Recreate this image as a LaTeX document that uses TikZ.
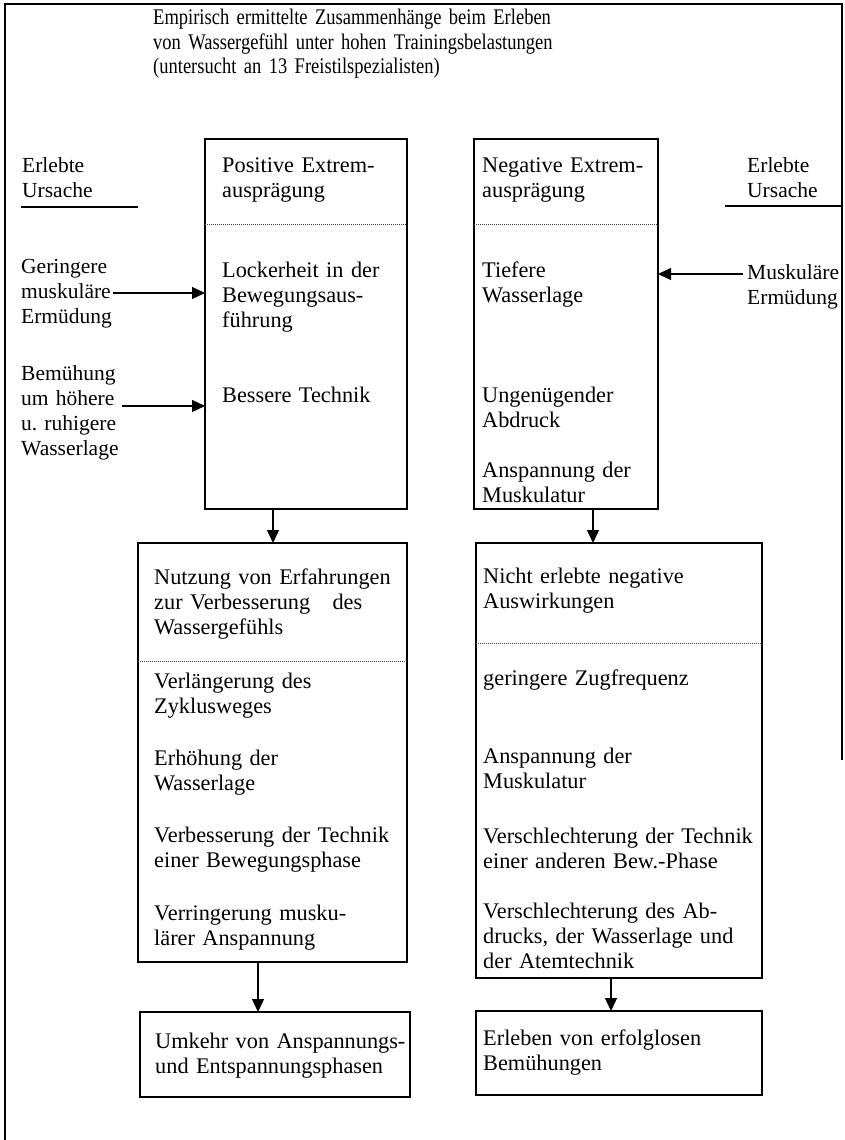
\documentclass[tikz,border=0pt]{standalone}
\usepackage{fontspec}
\setmainfont{Liberation Serif}
\newfontfamily\narrowserif[FakeStretch=0.83]{Liberation Serif}
\usetikzlibrary{arrows.meta}
\frenchspacing

\begin{document}
\begin{tikzpicture}[x=1pt,y=-1pt,
  frame/.style={line width=1.2pt},
  box/.style={draw, line width=1.3pt, inner sep=0pt, outer sep=0pt, anchor=north west},
  sep/.style={line width=0.8pt, dash pattern=on 1pt off 1pt, black!75},
  txt/.style={anchor=base west, align=left, inner sep=0pt, text width=600pt,
              font=\fontsize{22.3}{25}\selectfont},
  cause/.style={txt, font=\fontsize{21.5}{25}\selectfont},
  head/.style={txt, font=\narrowserif\fontsize{22.3}{24.5}\selectfont},
  arr/.style={line width=1.3pt, -{Triangle[length=13pt,width=12pt]}},
]
\useasboundingbox (0,0) rectangle (844,1140);

% outer frame (open at the bottom)
\draw[frame] (5,1140) -- (5,4) -- (842,4) -- (842,760);

% heading
\node[head] (title) at (153,25) {Empirisch ermittelte Zusammenhänge beim Erleben\\
von Wassergefühl unter hohen Trainingsbelastungen\\
(untersucht an 13 Freistilspezialisten)};

% column headings for the perceived causes
\node[cause] (causeL) at (22,172) {Erlebte\\Ursache};
\draw[frame] (21,207) -- (138,207);
\node[cause] (causeR) at (747,172) {Erlebte\\Ursache};
\draw[frame] (725,206) -- (842,206);

% causes
\node[cause] (c1) at (21,273) {Geringere\\muskuläre\\Ermüdung};
\node[cause] (c2) at (21,380) {Bemühung\\um höhere\\u. ruhigere\\Wasserlage};
\node[cause] (c3) at (747,279) {Muskuläre\\Ermüdung};

% boxes
\node[box, minimum width=202pt, minimum height=370pt] (pb) at (205,139) {};
\node[box, minimum width=184pt, minimum height=370pt] (nb) at (474,139) {};
\node[box, minimum width=269pt, minimum height=419pt] (lb) at (138,543) {};
\node[box, minimum width=286pt, minimum height=435pt] (rb) at (476,543) {};
\node[box, minimum width=270pt, minimum height=85pt]  (fl) at (140,1012) {};
\node[box, minimum width=286pt, minimum height=84pt]  (fr) at (476,1011) {};

% dotted separators
\draw[sep] (pb.west |- 0,224) -- (pb.east |- 0,224);
\draw[sep] (nb.west |- 0,224) -- (nb.east |- 0,224);
\draw[sep] (lb.west |- 0,661) -- (lb.east |- 0,661);
\draw[sep] (rb.west |- 0,643) -- (rb.east |- 0,643);

% positive extreme
\node[txt] (p1) at (222,172) {Positive Extrem-\\ausprägung};
\node[txt] (p2) at (222,277) {Lockerheit in der\\Bewegungsaus-\\führung};
\node[txt] (p3) at (222,402) {Bessere Technik};

% negative extreme
\node[txt] (n1) at (482,172) {Negative Extrem-\\ausprägung};
\node[txt] (n2) at (482,277) {Tiefere\\Wasserlage};
\node[txt] (n3) at (482,402) {Ungenügender\\Abdruck};
\node[txt] (n4) at (482,477) {Anspannung der\\Muskulatur};

% use of experience
\node[txt] (u1) at (154,584) {Nutzung von Erfahrungen\\zur Verbesserung\ \ \ des\\Wassergefühls};
\node[txt] (u2) at (154,688) {Verlängerung des\\Zyklusweges};
\node[txt] (u3) at (154,765) {Erhöhung der\\Wasserlage};
\node[txt] (u4) at (154,842) {Verbesserung der Technik\\einer Bewegungsphase};
\node[txt] (u5) at (154,920) {Verringerung musku-\\lärer Anspannung};

% unnoticed effects
\node[txt] (e1) at (483,583) {Nicht erlebte negative\\Auswirkungen};
\node[txt] (e2) at (483,685) {geringere Zugfrequenz};
\node[txt] (e3) at (483,763) {Anspannung der\\Muskulatur};
\node[txt] (e4) at (483,843) {Verschlechterung der Technik\\einer anderen Bew.-Phase};
\node[txt] (e5) at (483,918) {Verschlechterung des Ab-\\drucks, der Wasserlage und\\der Atemtechnik};

% outcomes
\node[txt] (o1) at (155,1048) {Umkehr von Anspannungs-\\und Entspannungsphasen};
\node[txt] (o2) at (483,1045) {Erleben von erfolglosen\\Bemühungen};

% connectors
\coordinate (a1) at (273,0);
\coordinate (a2) at (593,0);
\coordinate (a3) at (258,0);
\coordinate (a4) at (611,0);
\draw[arr] (pb.south -| a1) -- (lb.north -| a1);
\draw[arr] (nb.south -| a2) -- (rb.north -| a2);
\draw[arr] (lb.south -| a3) -- (fl.north -| a3);
\draw[arr] (rb.south -| a4) -- (fr.north -| a4);

\coordinate (s1) at (113,293);
\coordinate (s2) at (122,406);
\coordinate (s3) at (743,274);
\draw[arr] (s1) -- (s1 -| pb.west);
\draw[arr] (s2) -- (s2 -| pb.west);
\draw[arr] (s3) -- (s3 -| nb.east);
\end{tikzpicture}
\end{document}
